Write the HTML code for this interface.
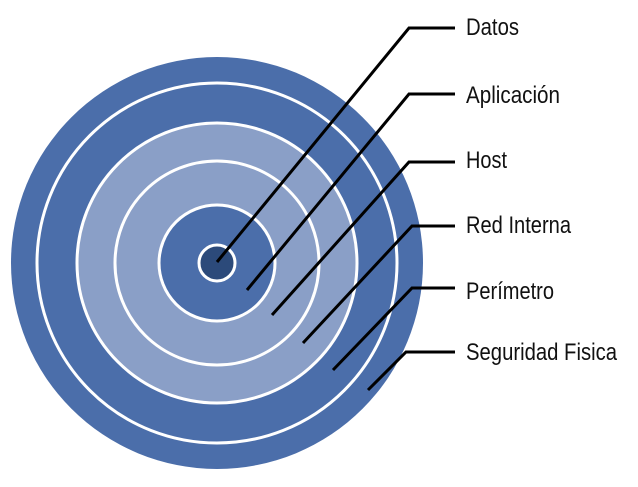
<!DOCTYPE html>
<html><head><meta charset="utf-8"><style>
html,body{margin:0;padding:0;background:#fff;width:638px;height:487px;overflow:hidden}
text{font-family:"Liberation Sans Narrow","Liberation Sans",sans-serif;font-size:24px;fill:#111}
</style></head><body>
<svg width="638" height="487" viewBox="0 0 638 487" xmlns="http://www.w3.org/2000/svg">
<circle cx="217" cy="263" r="206" fill="#4b6eaa"/>
<circle cx="217" cy="263" r="180" fill="#4b6eaa" stroke="#fff" stroke-width="3"/>
<circle cx="217" cy="263" r="140" fill="#8a9fc7" stroke="#fff" stroke-width="3"/>
<circle cx="217" cy="263" r="102" fill="#8a9fc7" stroke="#fff" stroke-width="3"/>
<circle cx="217" cy="263" r="58" fill="#4b6eaa" stroke="#fff" stroke-width="3"/>
<circle cx="217" cy="263" r="18" fill="#2c4a7a" stroke="#fff" stroke-width="3"/>
<g fill="none" stroke="#000" stroke-width="3">
<polyline points="217,262 409,28 455,28"/>
<polyline points="247,290 409,94 455,94"/>
<polyline points="272,315 409,162 455,162"/>
<polyline points="303,343 412,226 455,226"/>
<polyline points="333,370 412,288 455,288"/>
<polyline points="368,390 406,352 455,352"/>
</g>
<text x="466" y="35" textLength="53" lengthAdjust="spacingAndGlyphs">Datos</text>
<text x="466" y="103" textLength="94" lengthAdjust="spacingAndGlyphs">Aplicación</text>
<text x="466" y="168" textLength="41" lengthAdjust="spacingAndGlyphs">Host</text>
<text x="466" y="233" textLength="105" lengthAdjust="spacingAndGlyphs">Red Interna</text>
<text x="466" y="299" textLength="88" lengthAdjust="spacingAndGlyphs">Perímetro</text>
<text x="466" y="360" textLength="151" lengthAdjust="spacingAndGlyphs">Seguridad Fisica</text>
</svg>
</body></html>
